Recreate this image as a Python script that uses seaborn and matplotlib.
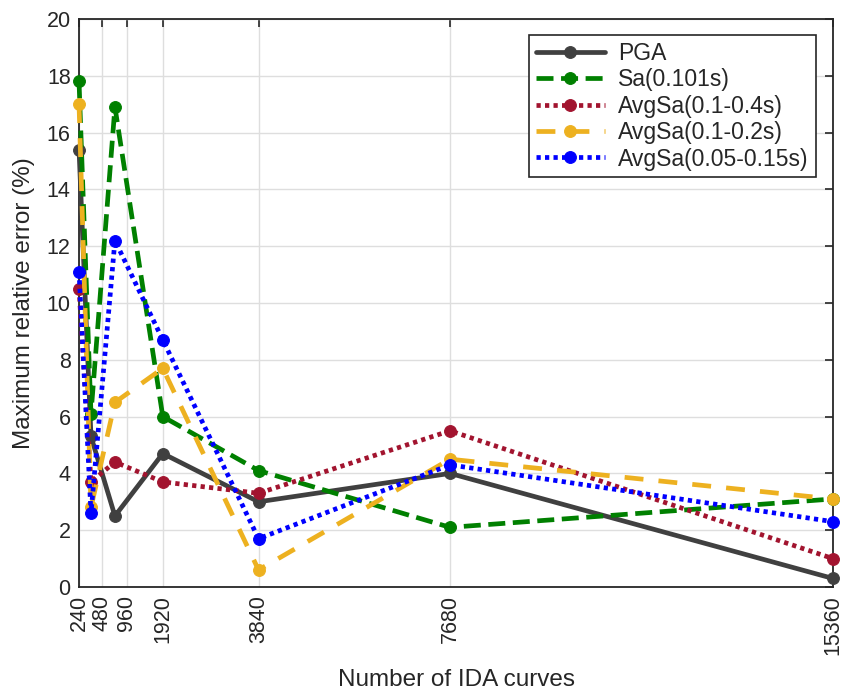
import matplotlib
matplotlib.use("Agg")
import matplotlib.pyplot as plt
import seaborn as sns
import pandas as pd

# Number of IDA curves used in each subset
n_curves = [240, 480, 960, 1920, 3840, 7680, 15360]

# Maximum relative error (%) for each intensity measure
pga = [15.4, 5.3, 2.5, 4.7, 3.0, 4.0, 0.3]
sa_0101 = [17.8, 6.1, 16.9, 6.0, 4.1, 2.1, 3.1]
avgsa_01_04 = [10.5, 3.7, 4.4, 3.7, 3.3, 5.5, 1.0]
avgsa_01_02 = [17.0, 2.8, 6.5, 7.7, 0.6, 4.5, 3.1]
avgsa_005_015 = [11.1, 2.6, 12.2, 8.7, 1.7, 4.3, 2.3]

series_names = ["PGA", "Sa(0.101s)", "AvgSa(0.1-0.4s)",
                "AvgSa(0.1-0.2s)", "AvgSa(0.05-0.15s)"]
series_values = [pga, sa_0101, avgsa_01_04, avgsa_01_02, avgsa_005_015]

# Tick positions on the x axis (480 and 960 nudged apart for readability)
xtick_pos = [240, 700, 1200, 1920, 3840, 7680, 15360]
xtick_labels = ["240", "480", "960", "1920", "3840", "7680", "15360"]

sns.set_style("white")
plt.rcParams["font.family"] = ["Liberation Sans", "DejaVu Sans"]

colors = ["#404040", "#008000", "#A2142F", "#EDB120", "#0000FF"]
dash_patterns = [None, (3.6, 1.6), (0.9, 0.9), (4.0, 3.2), (0.9, 0.9)]

fig = plt.figure(figsize=(8.47, 6.95), dpi=100)
ax = fig.add_axes([0.0933, 0.1554, 0.8902, 0.8173])

rows = []
for name, vals in zip(series_names, series_values):
    for x, y in zip(n_curves, vals):
        rows.append({"curves": x, "error": y, "measure": name})
df = pd.DataFrame(rows)

lw = 3.4
for name, col, dash in zip(series_names, colors, dash_patterns):
    sub = df[df["measure"] == name]
    sns.lineplot(data=sub, x="curves", y="error", ax=ax, color=col,
                 linewidth=lw, marker="o", markersize=8.5,
                 markeredgecolor=col, markerfacecolor=col,
                 label=name, estimator=None, sort=False, clip_on=False)
    line = ax.lines[-1]
    if dash is not None:
        line.set_dashes(dash)
        line.set_dash_capstyle("butt")

ax.set_xlim(240, 15360)
ax.set_ylim(0, 20)
ax.set_xticks(xtick_pos)
ax.set_xticklabels(xtick_labels, rotation=90)
ax.set_yticks(range(0, 21, 2))

ax.grid(True, color="#dedede", linewidth=1.0)
ax.set_axisbelow(True)
for s in ax.spines.values():
    s.set_visible(True)
    s.set_color("#262626")
    s.set_linewidth(1.3)
    s.set_zorder(1.5)
ax.tick_params(direction="in", length=6, width=1.2, colors="#262626",
               top=True, right=True, labelsize=15.5, pad=6)

ax.set_xlabel("Number of IDA curves", fontsize=17.5, color="#262626", labelpad=10)
ax.set_ylabel("Maximum relative error (%)", fontsize=17.5, color="#262626", labelpad=8)

# legend with the same handles
handles, labels = ax.get_legend_handles_labels()
for h, dash in zip(handles, dash_patterns):
    if dash is not None:
        h.set_dashes(dash)
leg = ax.legend(handles, labels, loc="upper right", bbox_to_anchor=(0.977, 0.972),
                fontsize=16.5, frameon=True, fancybox=False, handlelength=3.0,
                handletextpad=0.6, labelspacing=0.15, borderpad=0.3,
                borderaxespad=0.0)
leg.get_frame().set_edgecolor("#262626")
leg.get_frame().set_linewidth(1.2)
leg.get_frame().set_alpha(1)
leg.set_zorder(5)

fig.savefig("out.png", dpi=100)
